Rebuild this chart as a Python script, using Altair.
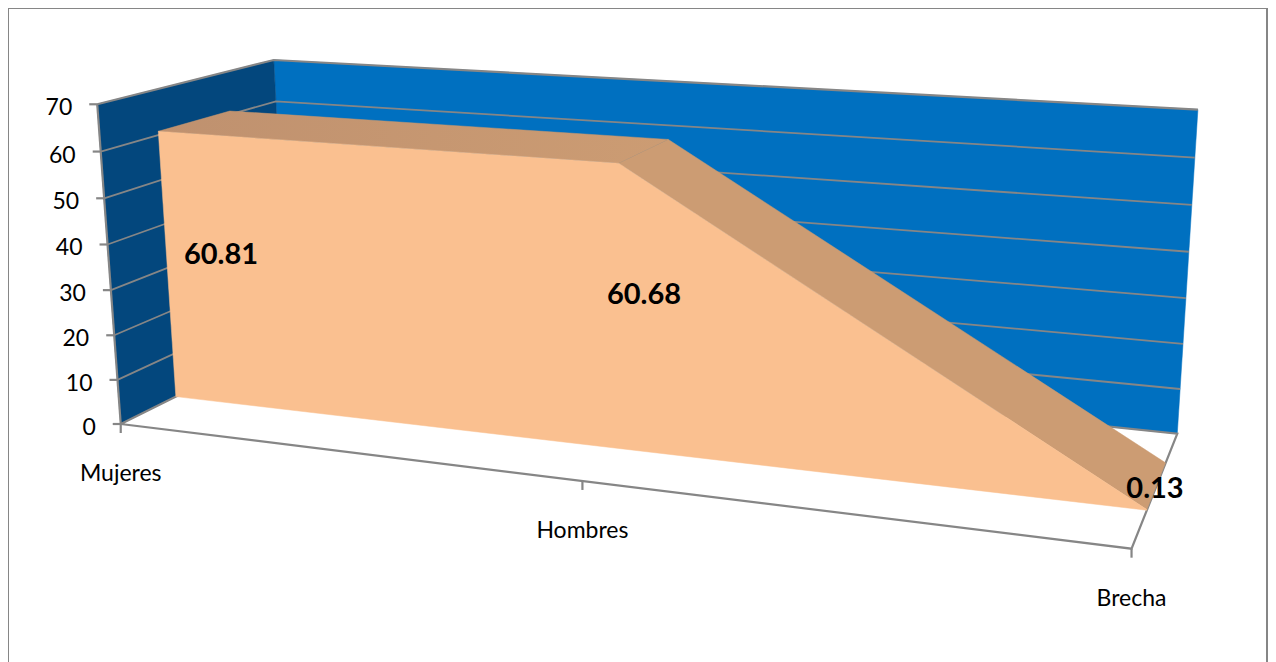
import numpy as np
import pandas as pd
import altair as alt

categories = ["Mujeres", "Hombres", "Brecha"]
values = [60.81, 60.68, 0.13]
value_labels = ["60.81", "60.68", "0.13"]
y_ticks = [0, 10, 20, 30, 40, 50, 60, 70]

W, H = 1260, 654
OFF = 8
V1, V2 = 0.30, 0.71
U = [0, 0.5, 1]
GREY = "#868686"
FONT = "Lato"

# camera calibration: (category pos, depth, value) -> page pixel
cal = [((0, 0, 0), (120, 423)), ((0, 0, 70), (98, 105)), ((1, 0, 0), (1132, 549)),
       ((0, 1, 0), (289, 342)), ((0, 1, 70), (273, 59)), ((1, 1, 0), (1177, 433)),
       ((1, 1, 70), (1198, 110)), ((0.5, 0, 0), (582, 481))]
A, b = [], []
for (u, v, h), (px, py) in cal:
    A.append([u, v, h, 1, 0, 0, 0, 0, -px * u, -px * v, -px * h]); b.append(px)
    A.append([0, 0, 0, 0, u, v, h, 1, -py * u, -py * v, -py * h]); b.append(py)
p = np.linalg.lstsq(np.array(A, float), np.array(b, float), rcond=None)[0]


def proj(u, v, h):
    d = p[8] * u + p[9] * v + p[10] * h + 1
    return ((p[0] * u + p[1] * v + p[2] * h + p[3]) / d - OFF,
            (p[4] * u + p[5] * v + p[6] * h + p[7]) / d - OFF)


XS = alt.Scale(domain=[0, W], range=[0, W])
YS = alt.Scale(domain=[0, H], range=[0, H])
X = alt.X("x:Q", scale=XS, axis=None)
Y = alt.Y("y:Q", scale=YS, axis=None)


def poly(points, colour, stroke=None):
    pts = [proj(*q) for q in points]
    df = pd.DataFrame({"x": [a for a, _ in pts], "y": [c for _, c in pts], "o": range(len(pts))})
    return alt.Chart(df).mark_line(fill=colour, stroke=stroke or colour, strokeWidth=0.5,
                                   interpolate="linear-closed").encode(x=X, y=Y, order="o:Q")


def path(points, width=2.2):
    pts = [proj(*q) for q in points]
    df = pd.DataFrame({"x": [a for a, _ in pts], "y": [c for _, c in pts], "o": range(len(pts))})
    return alt.Chart(df).mark_line(stroke=GREY, strokeWidth=width).encode(x=X, y=Y, order="o:Q")


def pix(xs, ys, width=2.2):
    df = pd.DataFrame({"x": xs, "y": ys, "o": range(len(xs))})
    return alt.Chart(df).mark_line(stroke=GREY, strokeWidth=width).encode(x=X, y=Y, order="o:Q")


def label(px, py, text, size, bold=False, align="center"):
    df = pd.DataFrame({"x": [px], "y": [py], "t": [text]})
    return alt.Chart(df).mark_text(font=FONT, fontSize=size, fontWeight="bold" if bold else "normal",
                                   color="#000000", align=align, baseline="middle").encode(x=X, y=Y, text="t:N")


layers = [
    pix([0, 0], [0, H], 2), pix([0, W], [0, 0], 2), pix([W - 1, W - 1], [0, H], 2),
    poly([(0, 1, 0), (1, 1, 0), (1, 1, 70), (0, 1, 70)], "#0070C0"),
    poly([(0, 0, 0), (0, 1, 0), (0, 1, 70), (0, 0, 70)], "#03477D"),
]
for t in y_ticks[1:-1]:
    layers.append(path([(0, 0, t), (0, 1, t), (1, 1, t)], 1.8))
layers.append(path([(0, 0, 70), (0, 1, 70), (1, 1, 70)]))
layers.append(path([(0, 0, 0), (0, 0, 70)]))
layers.append(path([(0, 0, 0), (0, 1, 0), (1, 1, 0), (1, 0, 0), (0, 0, 0)]))

# series: two shaded top faces, then the front face
flat = alt.Gradient(gradient="linear", x1=0, x2=1, y1=0, y2=0,
                    stops=[alt.GradientStop(color="#BF916F", offset=0),
                           alt.GradientStop(color="#CC9C73", offset=1)])
layers.append(poly([(U[0], V1, values[0]), (U[0], V2, values[0]),
                    (U[1], V2, values[1]), (U[1], V1, values[1])], flat, stroke="#C6976F"))
layers.append(poly([(U[1], V1, values[1]), (U[1], V2, values[1]),
                    (U[2], V2, values[2]), (U[2], V1, values[2])], "#CC9C73"))
layers.append(poly([(0, V1, 0)] + [(U[i], V1, values[i]) for i in range(3)] + [(1, V1, 0)], "#FAC090"))

for t in y_ticks:
    x0, y0 = proj(0, 0, t)
    layers.append(pix([x0 - 8, x0], [y0, y0]))
    layers.append(label(x0 - 25, y0 + 4, str(t), 23, align="right"))
for i, c in enumerate(categories):
    x0, y0 = proj(U[i], 0, 0)
    layers.append(pix([x0, x0], [y0, y0 + 9]))
    layers.append(label(x0, y0 + 50, c, 23))

vpos = [(221, 255), (644, 295), (1155, 489)]
for (px, py), t in zip(vpos, value_labels):
    layers.append(label(px - OFF, py - OFF, t, 29, bold=True))

chart = alt.layer(*layers).properties(
    width=W, height=H, padding=0, background="#FFFFFF",
    autosize=alt.AutoSizeParams(type="none"),
).configure_view(stroke=None)

chart.save("out.html", embed_options={"renderer": "svg", "actions": False})
